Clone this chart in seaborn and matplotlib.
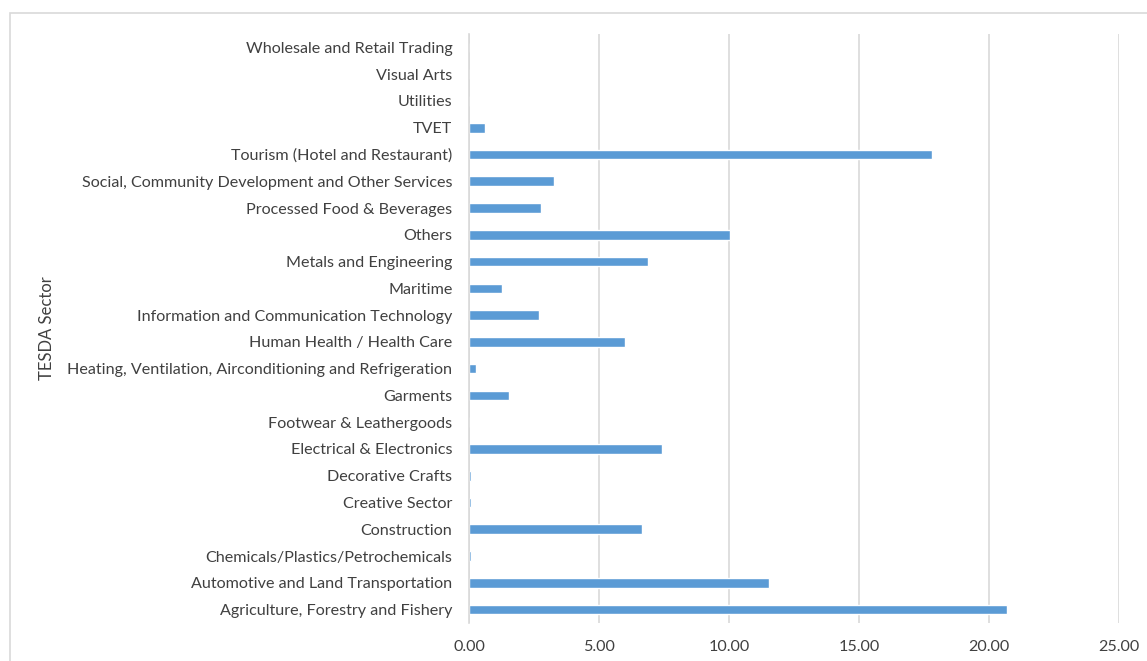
import matplotlib
matplotlib.use("Agg")
import matplotlib.pyplot as plt
import matplotlib.patches as mpatches
import pandas as pd
import seaborn as sns

# sectors listed top to bottom as in the chart
sectors = [
    "Wholesale and Retail Trading",
    "Visual Arts",
    "Utilities",
    "TVET",
    "Tourism (Hotel and Restaurant)",
    "Social, Community Development and Other Services",
    "Processed Food & Beverages",
    "Others",
    "Metals and Engineering",
    "Maritime",
    "Information and Communication Technology",
    "Human Health / Health Care",
    "Heating, Ventilation, Airconditioning and Refrigeration",
    "Garments",
    "Footwear & Leathergoods",
    "Electrical & Electronics",
    "Decorative Crafts",
    "Creative Sector",
    "Construction",
    "Chemicals/Plastics/Petrochemicals",
    "Automotive and Land Transportation",
    "Agriculture, Forestry and Fishery",
]
values = [
    0.0, 0.0, 0.0, 0.61, 17.82, 3.27, 2.77, 10.03, 6.90, 1.27, 2.69,
    5.98, 0.26, 1.54, 0.0, 7.41, 0.06, 0.09, 6.65, 0.06, 11.54, 20.68,
]

df = pd.DataFrame({"sector": sectors, "value": values})

sns.set_theme(style="white")
plt.rcParams["font.family"] = ["Lato", "DejaVu Sans"]

fig = plt.figure(figsize=(11.47, 6.61), dpi=100)
ax = fig.add_axes([0.409, 0.0575, 0.5665, 0.891])

sns.barplot(
    data=df,
    y="sector",
    x="value",
    order=sectors,
    orient="h",
    color="#5B9BD5",
    saturation=1,
    width=0.36,
    ax=ax,
)

ax.set_xlim(0, 25)
ax.set_ylim(len(sectors) - 0.5, -0.5)
ax.set_xticks([0, 5, 10, 15, 20, 25])
ax.set_xticklabels([f"{t:.2f}" for t in [0, 5, 10, 15, 20, 25]])
ax.xaxis.grid(True, color="#D9D9D9", linewidth=1.2)
ax.set_axisbelow(True)
for s in ["top", "right", "bottom"]:
    ax.spines[s].set_visible(False)
ax.spines["left"].set_color("#D9D9D9")
ax.spines["left"].set_linewidth(1.2)
ax.tick_params(axis="both", length=0, labelsize=11.6, colors="#404040")
ax.tick_params(axis="y", pad=12)
ax.tick_params(axis="x", pad=12)
ax.set_xlabel("")
ax.set_ylabel("TESDA Sector", fontsize=12, color="#404040")
ax.yaxis.set_label_coords(-0.637, 0.5)

# outer chart border
fig.add_artist(mpatches.Rectangle(
    (10 / 1147, -0.1), 1.2, 1.1 - 13 / 661,
    transform=fig.transFigure, fill=False, edgecolor="#D9D9D9", linewidth=1.2,
))

fig.savefig("out.png", dpi=100)
